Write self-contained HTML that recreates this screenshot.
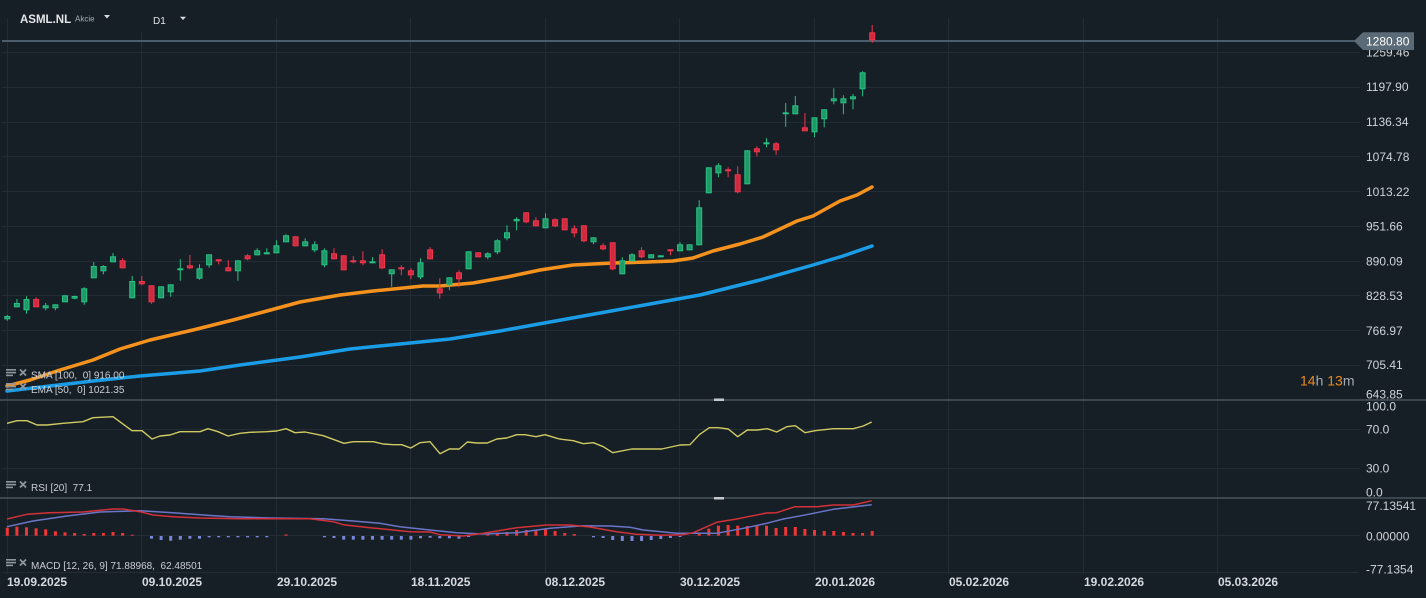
<!DOCTYPE html>
<html><head><meta charset="utf-8"><style>
html,body{margin:0;padding:0;background:#171f26;}
svg{display:block;font-family:"Liberation Sans",Arial,sans-serif;}
.ax{fill:#cfd4d8;font-size:12px;}
.dt{fill:#d6dade;font-size:12px;font-weight:bold;}
.lg{fill:#c9ced3;font-size:10px;}
</style></head><body>
<svg width="1426" height="598" viewBox="0 0 1426 598" xmlns="http://www.w3.org/2000/svg">
<rect width="1426" height="598" fill="#171f26"/>
<!-- grid -->
<g stroke="#232c34" stroke-width="1">
<path d="M2 52.5H1360M2 87.5H1360M2 122.5H1360M2 156.5H1360M2 191.5H1360M2 226.5H1360M2 261.5H1360M2 295.5H1360M2 330.5H1360M2 365.5H1360"/>
<path d="M2 429.5H1360M2 468.5H1360M2 535.5H1360M2 572.5H1358"/>
<path d="M7.5 18V574M141.5 32V574M276.5 18V574M410.5 18V574M545.5 18V574M679.5 18V574M814.5 18V574M948.5 18V574M1083.5 18V574M1217.5 18V574"/>
</g>
<!-- pane separators -->
<g stroke="#48535d" stroke-width="1.5"><path d="M0 400H1426M0 498H1426"/></g>
<rect x="714" y="398.5" width="10" height="2.5" fill="#c6c9cc"/>
<rect x="714" y="497" width="10" height="2.5" fill="#c6c9cc"/>
<!-- current price line -->
<path d="M2 41H1356" stroke="#4b5e6d" stroke-width="2"/>
<!-- MAs -->
<polyline fill="none" stroke="#1a9de6" stroke-width="3.5" stroke-linejoin="round" stroke-linecap="round" points="7,391 50,386 93,381 140,376 200,371 240,365 300,357 350,349 400,344 450,339 500,331 550,322 600,313 650,304 700,295 760,280 813,265 843,256 872,246"/>
<polyline fill="none" stroke="#f5921e" stroke-width="3.5" stroke-linejoin="round" stroke-linecap="round" points="7,386 30,380 60,370 93,360 120,349 150,340 193,330 233,320 267,311 300,302 323,298 340,295 373,291 423,286 440,286 473,283 507,277 540,270 573,265 613,263 647,262 673,261 693,258 713,251 740,244 763,237 780,229 797,221 813,216 840,201 857,195 872,187"/>
<!-- candle wicks -->
<path fill="none" stroke="#28c083" stroke-width="1" d="M7.3 315V320.7M16.9 299V307.3M26.5 296.3V313.7M45.7 303V310.3M55.4 304.3V310.3M65 295.3V302.3M74.6 295.7V299.3M84.2 287.3V304.7M93.8 262V278.3M103.4 265.3V274.3M113 253V262.3M132.2 276V298.3M161.1 286.3V298.3M170.7 284.3V296.7M180.3 259.3V280.7M199.5 264.3V279.7M209.1 254.3V267.7M237.9 260.3V280.7M257.2 248.3V255.3M266.8 248.3V254.3M276.4 240.3V253.3M286 234.3V242.3M305.2 238.3V246.3M314.8 241.3V252.3M324.4 248.3V267.3M372.5 257.3V263.3M391.7 269.3V286.7M420.5 258.3V279.3M449.4 277.3V290.3M468.6 251.3V269.3M487.8 252.3V259.3M497.4 239.3V254.3M507 225.3V240.3M516.6 217.3V230.3M545.5 213.3V228.3M593.5 237.3V244.3M622.3 257.3V274.3M632 253.3V261.3M651.2 254.3V258.3M660.8 255.3V257.3M680 242.3V251.3M689.6 244.3V250.3M699.2 200.3V245.3M708.8 167.3V193.3M718.4 163.3V177.3M747.3 150.3V184.3M766.5 138.3V147.3M785.7 103V126.7M795.3 96V114.3M814.5 117.3V137.3M824.2 109.3V127.3M833.8 88.3V104.3M843.4 95.3V114.3M853 94V109.3M862.6 71.3V96.3"/>
<path fill="none" stroke="#f0364d" stroke-width="1" d="M36.1 297.3V307.3M122.6 258.3V268.3M141.8 276V285.3M151.5 285.3V303.7M189.9 255V269.3M218.7 259.3V264.3M228.3 260.3V271.3M247.6 254.3V260.3M295.6 236.3V246.3M334 248.3V259.3M343.7 255.3V270.3M353.3 256.3V263.3M362.9 251.3V265.3M382.1 249.3V269.3M401.3 265.3V275.3M410.9 268.3V279.3M430.1 247.3V259.3M439.8 278.3V298.7M459 270.3V287.3M478.2 252.3V257.3M526.2 212.3V223.3M535.9 217.3V226.3M555.1 218.3V227.3M564.7 218.3V230.3M574.3 225.3V237.3M583.9 225.3V242.3M603.1 243.3V250.3M612.7 242.3V270.3M641.6 247.3V258.3M670.4 249.3V255.3M728.1 167.3V177.3M737.7 166.3V193.3M756.9 146.3V156.3M776.1 142V154.7M804.9 113V131.3M872.2 25V42.7"/>
<!-- green bodies -->
<g fill="#1f9a66" stroke="#28c083" stroke-width="1">
<rect x="4.8" y="316.5" width="5" height="2.3"/><rect x="14.4" y="303.5" width="5" height="3.3"/><rect x="24" y="299.5" width="5" height="10.3"/><rect x="43.2" y="305.8" width="5" height="2"/><rect x="52.9" y="304.8" width="5" height="3"/><rect x="62.5" y="295.8" width="5" height="6"/><rect x="72.1" y="296.5" width="5" height="1.7"/><rect x="81.7" y="288.8" width="5" height="13"/><rect x="91.3" y="266.5" width="5" height="11.3"/><rect x="100.9" y="266.5" width="5" height="4.3"/><rect x="110.5" y="256.8" width="5" height="5"/><rect x="129.7" y="281.5" width="5" height="16.3"/><rect x="158.6" y="286.8" width="5" height="11"/><rect x="168.2" y="284.8" width="5" height="7"/><rect x="177.8" y="268.8" width="5" height="1"/><rect x="197" y="268.8" width="5" height="9.4"/><rect x="206.6" y="254.8" width="5" height="10"/><rect x="235.4" y="260.8" width="5" height="10"/><rect x="254.7" y="250.8" width="5" height="4"/><rect x="264.3" y="252.8" width="5" height="1"/><rect x="273.9" y="245.8" width="5" height="7"/><rect x="283.5" y="235.8" width="5" height="6"/><rect x="302.7" y="241.8" width="5" height="4"/><rect x="312.3" y="244.8" width="5" height="5"/><rect x="321.9" y="250.8" width="5" height="14"/><rect x="370" y="261.8" width="5" height="1"/><rect x="389.2" y="269.8" width="5" height="4"/><rect x="418" y="262.8" width="5" height="14"/><rect x="446.9" y="277.8" width="5" height="7"/><rect x="466.1" y="251.8" width="5" height="17"/><rect x="485.3" y="253.8" width="5" height="3"/><rect x="494.9" y="240.8" width="5" height="11"/><rect x="504.5" y="232.8" width="5" height="5"/><rect x="514.1" y="219.5" width="5" height="1.3"/><rect x="543" y="218.8" width="5" height="9"/><rect x="591" y="237.8" width="5" height="4"/><rect x="619.8" y="260.8" width="5" height="13"/><rect x="629.5" y="254.8" width="5" height="6"/><rect x="648.7" y="254.8" width="5" height="3"/><rect x="658.3" y="255.8" width="5" height="1"/><rect x="677.5" y="244.8" width="5" height="6"/><rect x="687.1" y="244.8" width="5" height="5"/><rect x="696.7" y="207.8" width="5" height="37"/><rect x="706.3" y="167.8" width="5" height="25"/><rect x="715.9" y="165.8" width="5" height="7"/><rect x="744.8" y="150.8" width="5" height="33"/><rect x="764" y="142.8" width="5" height="1"/><rect x="783.2" y="112.8" width="5" height="1"/><rect x="792.8" y="105.8" width="5" height="8"/><rect x="812" y="117.8" width="5" height="14"/><rect x="821.7" y="109.8" width="5" height="9"/><rect x="831.3" y="98.8" width="5" height="2"/><rect x="840.9" y="98.8" width="5" height="4"/><rect x="850.5" y="96.8" width="5" height="2"/><rect x="860.1" y="72.8" width="5" height="16"/>
</g>
<!-- red bodies -->
<g fill="#cf2a40" stroke="#f0364d" stroke-width="1">
<rect x="33.6" y="299.5" width="5" height="7.3"/><rect x="120.1" y="260.8" width="5" height="7"/><rect x="139.3" y="281.5" width="5" height="2.3"/><rect x="149" y="285.8" width="5" height="16"/><rect x="187.4" y="265.8" width="5" height="2"/><rect x="216.2" y="259.8" width="5" height="1"/><rect x="225.8" y="267.8" width="5" height="3"/><rect x="245.1" y="255.8" width="5" height="3"/><rect x="293.1" y="236.8" width="5" height="9"/><rect x="331.5" y="253.8" width="5" height="5"/><rect x="341.2" y="255.8" width="5" height="14"/><rect x="350.8" y="260.8" width="5" height="1"/><rect x="360.4" y="260.8" width="5" height="2"/><rect x="379.6" y="254.8" width="5" height="13"/><rect x="398.8" y="267.8" width="5" height="1"/><rect x="408.4" y="270.8" width="5" height="4"/><rect x="427.6" y="249.8" width="5" height="9"/><rect x="437.3" y="288.8" width="5" height="4"/><rect x="456.5" y="272.8" width="5" height="6"/><rect x="475.7" y="252.8" width="5" height="4"/><rect x="523.7" y="212.8" width="5" height="9"/><rect x="533.4" y="220.8" width="5" height="5"/><rect x="552.6" y="219.8" width="5" height="6"/><rect x="562.2" y="218.8" width="5" height="11"/><rect x="571.8" y="228.8" width="5" height="4"/><rect x="581.4" y="225.8" width="5" height="15"/><rect x="600.6" y="245.8" width="5" height="3"/><rect x="610.2" y="242.8" width="5" height="26"/><rect x="639.1" y="250.8" width="5" height="6"/><rect x="667.9" y="249.8" width="5" height="1"/><rect x="725.6" y="169.8" width="5" height="1"/><rect x="735.2" y="174.8" width="5" height="17"/><rect x="754.4" y="148.8" width="5" height="3"/><rect x="773.6" y="143.8" width="5" height="6"/><rect x="802.4" y="127.8" width="5" height="3"/><rect x="869.7" y="32.8" width="5" height="7"/>
</g>
<!-- RSI -->
<polyline fill="none" stroke="#cfca62" stroke-width="1.4" stroke-linejoin="round" points="7,423.3 17,420.7 27,420.7 37,425 47,425 63,423.3 83,421.7 93,417.7 113,416.7 132,430.7 142,430.7 152,439 160,436 170,435 180,431.7 200,431.7 208,428.7 218,431.7 228,436 240,433.3 250,432.3 266.7,431.7 276.7,431 286,428.7 295,432.7 305,432 323.3,435.7 344,443.3 353.3,441.7 373.3,441.7 383.3,444 393.3,444.7 401.7,444.7 410.7,448 420,442.7 430,441.7 440,453.7 449.3,449 459.3,449 467.3,442 476.7,443 487.3,443 496.7,439 506.7,438 516.7,434.7 525,434.7 536,436.7 545,434.7 558.3,438.7 561.7,439.3 573.3,440.7 583.3,443.7 593.3,442.7 603.3,446.7 612.7,452.7 631.7,449 661.7,449 680,445 690,444.7 699.3,434.7 709.3,427.7 718.3,427.7 728.3,429 737.7,436.7 747.3,430 757.3,430 767.3,428.7 776.7,432 786.7,426.7 795.3,425.7 805,432.7 815,430.7 833.3,428.7 853.3,428.7 863.3,426 871.7,422"/>
<!-- MACD histogram -->
<g fill="#ee3636">
<rect x="5.8" y="527.7" width="3" height="8"/><rect x="15.4" y="526.7" width="3" height="9"/><rect x="25" y="527.3" width="3" height="8.4"/><rect x="34.6" y="528.3" width="3" height="7.4"/><rect x="44.2" y="529.3" width="3" height="6.4"/><rect x="53.9" y="531.3" width="3" height="4.4"/><rect x="63.5" y="532.3" width="3" height="3.4"/><rect x="73.1" y="533" width="3" height="2.7"/><rect x="82.7" y="534" width="3" height="1.7"/><rect x="92.3" y="533" width="3" height="2.7"/><rect x="101.9" y="533" width="3" height="2.7"/><rect x="111.5" y="532" width="3" height="3.7"/><rect x="121.1" y="533" width="3" height="2.7"/><rect x="130.7" y="534.7" width="3" height="1"/><rect x="284.5" y="534.5" width="3" height="1.2"/><rect x="486.3" y="534.7" width="3" height="1"/><rect x="495.9" y="532.7" width="3" height="3"/><rect x="505.5" y="532" width="3" height="3.7"/><rect x="515.1" y="530" width="3" height="5.7"/><rect x="524.7" y="530" width="3" height="5.7"/><rect x="534.4" y="530" width="3" height="5.7"/><rect x="544" y="529.3" width="3" height="6.4"/><rect x="553.6" y="531" width="3" height="4.7"/><rect x="563.2" y="533" width="3" height="2.7"/><rect x="572.8" y="534" width="3" height="1.7"/><rect x="697.7" y="532.7" width="3" height="3"/><rect x="707.3" y="528.7" width="3" height="7"/><rect x="716.9" y="525.7" width="3" height="10"/><rect x="726.6" y="525" width="3" height="10.7"/><rect x="736.2" y="525.7" width="3" height="10"/><rect x="745.8" y="526" width="3" height="9.7"/><rect x="755.4" y="525.3" width="3" height="10.4"/><rect x="765" y="525.7" width="3" height="10"/><rect x="774.6" y="528" width="3" height="7.7"/><rect x="784.2" y="527" width="3" height="8.7"/><rect x="793.8" y="527" width="3" height="8.7"/><rect x="803.4" y="529" width="3" height="6.7"/><rect x="813" y="530" width="3" height="5.7"/><rect x="822.7" y="531" width="3" height="4.7"/><rect x="832.3" y="531" width="3" height="4.7"/><rect x="841.9" y="532" width="3" height="3.7"/><rect x="851.5" y="533" width="3" height="2.7"/><rect x="861.1" y="533" width="3" height="2.7"/><rect x="870.7" y="531" width="3" height="4.7"/>
</g>
<g fill="#7a86d8">
<rect x="150" y="536" width="3" height="2.7"/><rect x="159.6" y="536" width="3" height="4"/><rect x="169.2" y="536" width="3" height="4.7"/><rect x="178.8" y="536" width="3" height="3.7"/><rect x="188.4" y="536" width="3" height="2.7"/><rect x="198" y="536" width="3" height="2.7"/><rect x="207.6" y="536" width="3" height="1.3"/><rect x="217.2" y="536" width="3" height="1.3"/><rect x="226.8" y="536" width="3" height="1.3"/><rect x="236.4" y="536" width="3" height="1.3"/><rect x="246.1" y="536" width="3" height="1.3"/><rect x="255.7" y="536" width="3" height="1.3"/><rect x="265.3" y="536" width="3" height="1.3"/><rect x="322.9" y="536" width="3" height="1.3"/><rect x="332.5" y="536" width="3" height="2"/><rect x="342.2" y="536" width="3" height="3.7"/><rect x="351.8" y="536" width="3" height="3.7"/><rect x="361.4" y="536" width="3" height="3.7"/><rect x="371" y="536" width="3" height="3.7"/><rect x="380.6" y="536" width="3" height="3.7"/><rect x="390.2" y="536" width="3" height="3.7"/><rect x="399.8" y="536" width="3" height="3.7"/><rect x="409.4" y="536" width="3" height="3.7"/><rect x="419" y="536" width="3" height="2.3"/><rect x="428.6" y="536" width="3" height="1.7"/><rect x="438.3" y="536" width="3" height="2.3"/><rect x="447.9" y="536" width="3" height="2.3"/><rect x="457.5" y="536" width="3" height="2.7"/><rect x="467.1" y="536" width="3" height="1"/><rect x="592" y="536" width="3" height="1.3"/><rect x="601.6" y="536" width="3" height="2"/><rect x="611.2" y="536" width="3" height="4"/><rect x="620.8" y="536" width="3" height="5"/><rect x="630.5" y="536" width="3" height="5"/><rect x="640.1" y="536" width="3" height="5"/><rect x="649.7" y="536" width="3" height="4"/><rect x="659.3" y="536" width="3" height="3"/><rect x="668.9" y="536" width="3" height="2"/><rect x="678.5" y="536" width="3" height="1"/>
</g>
<!-- MACD lines -->
<polyline fill="none" stroke="#6b75c8" stroke-width="1.5" stroke-linejoin="round" points="7,526.7 33,521 67,516 100,512 140,510.7 173,512.7 207,515.3 230,516.7 270,518 323.3,518.7 350,520.7 380,523.3 400,526.7 430,530 456.7,532.7 483.3,534 516.7,532.7 550,528.3 583.3,525.7 610,526 630,527.3 643.3,530 676.7,533.3 716.7,533.3 743.3,528.3 766.7,523.3 783.3,519 803.3,515.3 833.3,509.3 871.7,504.7"/>
<polyline fill="none" stroke="#d33139" stroke-width="1.5" stroke-linejoin="round" points="7,519 27,514.3 50,512.7 83,512 113,509 123,509 140,511.7 153,515 173,516.7 200,518 240,518.7 310,518.7 333.3,521.7 343.3,524.7 370,527.7 410,531.7 430,532 440,534.7 463.3,536 483.3,533.3 516.7,527.7 546.7,525 570,525 590,527 616.7,531.7 636.7,534.3 660,535.3 683.3,534.7 693.3,532.7 716.7,522.3 736.7,519 750,516.3 766.7,513 776.7,512.7 795,506.7 816.7,506.7 833.3,505 853.3,505 871.7,500.7"/>
<!-- header -->
<rect x="12" y="0" width="260" height="32" fill="#171f26"/>
<text x="20" y="23" fill="#e3e6e9" font-size="11.5" font-weight="bold">ASML.NL</text>
<text x="75" y="21.3" fill="#a3afb8" font-size="8">Akcie</text>
<path d="M104 15H110L107 18.5Z" fill="#d8dcdf"/>
<text x="153" y="24" fill="#e3e6e9" font-size="10">D1</text>
<path d="M180 16.7H186L183 20Z" fill="#d8dcdf"/>
<!-- price axis -->
<g class="ax">
<text x="1366" y="56.7">1259.46</text>
<text x="1366" y="91">1197.90</text>
<text x="1366" y="126">1136.34</text>
<text x="1366" y="161">1074.78</text>
<text x="1366" y="196">1013.22</text>
<text x="1366" y="230.5">951.66</text>
<text x="1366" y="265.3">890.09</text>
<text x="1366" y="300">828.53</text>
<text x="1366" y="334.8">766.97</text>
<text x="1366" y="369">705.41</text>
<text x="1366" y="398.3">643.85</text>
<text x="1366" y="410.7">100.0</text>
<text x="1366" y="433.3">70.0</text>
<text x="1366" y="472.7">30.0</text>
<text x="1366" y="496.7">0.0</text>
<text x="1366" y="510">77.13541</text>
<text x="1366" y="540.3">0.00000</text>
<text x="1366" y="573.3">-77.1354</text>
</g>
<path d="M1354 41L1363 32.3H1414V50H1363Z" fill="#5a6a77"/>
<text x="1366" y="45.7" fill="#ffffff" font-size="12">1280.80</text>
<text x="1300" y="385.7" font-size="14"><tspan fill="#e98a1c">14</tspan><tspan fill="#a3abb1">h </tspan><tspan fill="#e98a1c">13</tspan><tspan fill="#a3abb1">m</tspan></text>
<!-- legends -->
<g fill="#8e969d">
<rect x="6" y="369" width="10" height="1.6"/><rect x="6" y="371.8" width="10" height="1.6"/><rect x="6" y="374.6" width="7" height="1.6"/>
<rect x="6" y="383" width="10" height="1.6"/><rect x="6" y="385.8" width="10" height="1.6"/><rect x="6" y="388.6" width="7" height="1.6"/>
<rect x="6" y="481" width="10" height="1.6"/><rect x="6" y="483.8" width="10" height="1.6"/><rect x="6" y="486.6" width="7" height="1.6"/>
<rect x="6" y="559" width="10" height="1.6"/><rect x="6" y="561.8" width="10" height="1.6"/><rect x="6" y="564.6" width="7" height="1.6"/>
</g>
<g stroke="#8e969d" stroke-width="1.8">
<path d="M20 369.5L26 375.5M26 369.5L20 375.5"/>
<path d="M20 383.5L26 389.5M26 383.5L20 389.5"/>
<path d="M20 481.5L26 487.5M26 481.5L20 487.5"/>
<path d="M20 559.5L26 565.5M26 559.5L20 565.5"/>
</g>
<text class="lg" x="31" y="378.5" xml:space="preserve">SMA [100,  0] 916.00</text>
<text class="lg" x="31" y="392.8" xml:space="preserve">EMA [50,  0] 1021.35</text>
<text class="lg" x="31" y="490.8" xml:space="preserve">RSI [20]  77.1</text>
<text class="lg" x="31" y="569" xml:space="preserve">MACD [12, 26, 9] 71.88968,  62.48501</text>
<!-- date axis -->
<g class="dt">
<text x="7" y="586">19.09.2025</text>
<text x="142" y="586">09.10.2025</text>
<text x="277" y="586">29.10.2025</text>
<text x="411" y="586">18.11.2025</text>
<text x="545" y="586">08.12.2025</text>
<text x="680" y="586">30.12.2025</text>
<text x="815" y="586">20.01.2026</text>
<text x="949" y="586">05.02.2026</text>
<text x="1084" y="586">19.02.2026</text>
<text x="1218" y="586">05.03.2026</text>
</g>
</svg>
</body></html>
